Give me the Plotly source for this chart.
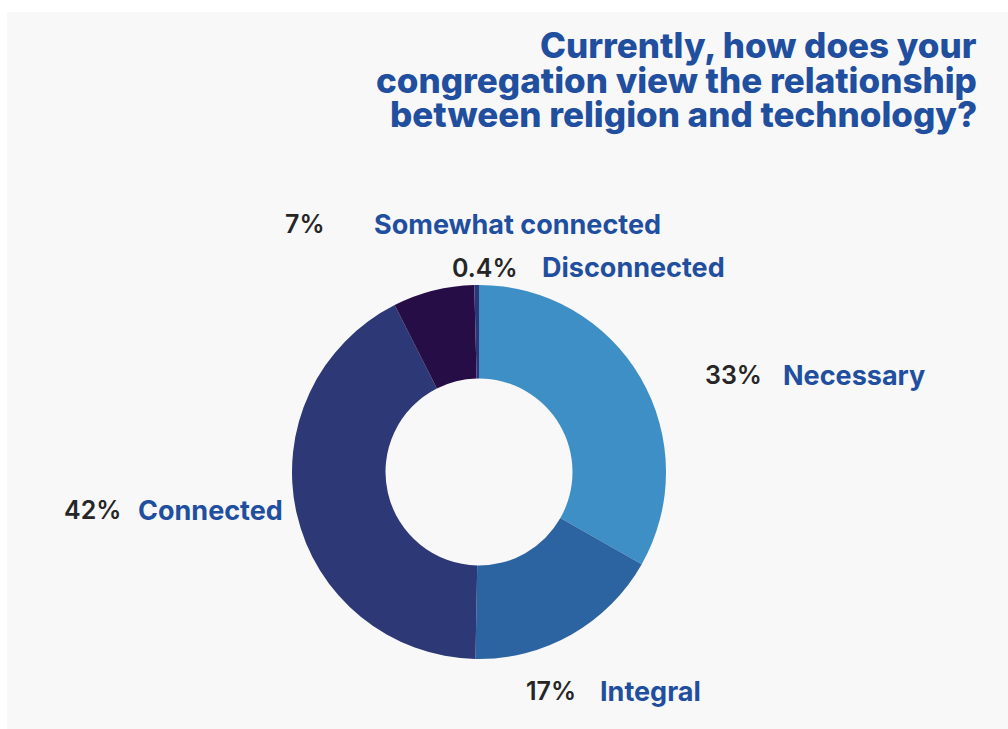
import plotly.graph_objects as go

# Survey answers, clockwise from 12 o'clock
categories = ["Necessary", "Integral", "Connected", "Somewhat connected", "Disconnected"]
shares = [33, 17, 42, 7, 0.4]
slice_colors = ["#3d8fc5", "#2c64a2", "#2d3876", "#270d45", "#2c3779"]

title_lines = [
    "Currently, how does your",
    "congregation view the relationship",
    "between religion and technology?",
]

W, H = 1008, 729

def px(x):
    return x / W

def py(y):
    return 1 - y / H

fig = go.Figure()

fig.add_trace(go.Pie(
    labels=categories,
    values=shares,
    sort=False,
    direction="clockwise",
    rotation=0,
    hole=0.5,
    marker=dict(colors=slice_colors, line=dict(width=0)),
    textinfo="none",
    hoverinfo="label+value",
    showlegend=False,
    domain=dict(x=[px(292), px(666)], y=[py(659), py(285)]),
))

# outside label placement: (percent right edge, category left edge, centre y)
label_pos = {
    "Necessary": (763, 782, 375),
    "Integral": (577, 599, 691),
    "Connected": (122, 137, 510),
    "Somewhat connected": (326, 373, 224),
    "Disconnected": (519, 541, 268),
}

BLUE = "#1f4f9e"
DARK = "#262626"
FONT = "Inter"

annotations = []
for cat, val in zip(categories, shares):
    xr, xl, yc = label_pos[cat]
    annotations.append(dict(
        x=px(xr), y=py(yc), xref="paper", yref="paper",
        text=f"{val:g}%", showarrow=False, xanchor="right", yanchor="middle",
        xshift=1,
        font=dict(family=FONT, size=25, color=DARK, weight=600),
    ))
    annotations.append(dict(
        x=px(xl), y=py(yc), xref="paper", yref="paper",
        text=cat, showarrow=False, xanchor="left", yanchor="middle",
        xshift=-1,
        font=dict(family=FONT, size=27, color=BLUE, weight=700),
    ))

# title, right aligned, tight line spacing (one annotation per line)
for line, yc in zip(title_lines, [45, 80, 114]):
    annotations.append(dict(
        x=px(979), y=py(yc), xref="paper", yref="paper",
        text=line, showarrow=False,
        xanchor="right", yanchor="middle", align="right",
        font=dict(family=FONT, size=35, color=BLUE, weight=800),
    ))

fig.update_layout(
    width=W, height=H,
    margin=dict(l=0, r=0, t=0, b=0),
    paper_bgcolor="#ffffff",
    plot_bgcolor="#ffffff",
    annotations=annotations,
    shapes=[dict(
        type="rect", xref="paper", yref="paper",
        x0=px(7), x1=1, y0=0, y1=py(12),
        fillcolor="#f8f8f8", line=dict(width=0), layer="below",
    )],
)

fig.write_html("out.html")
